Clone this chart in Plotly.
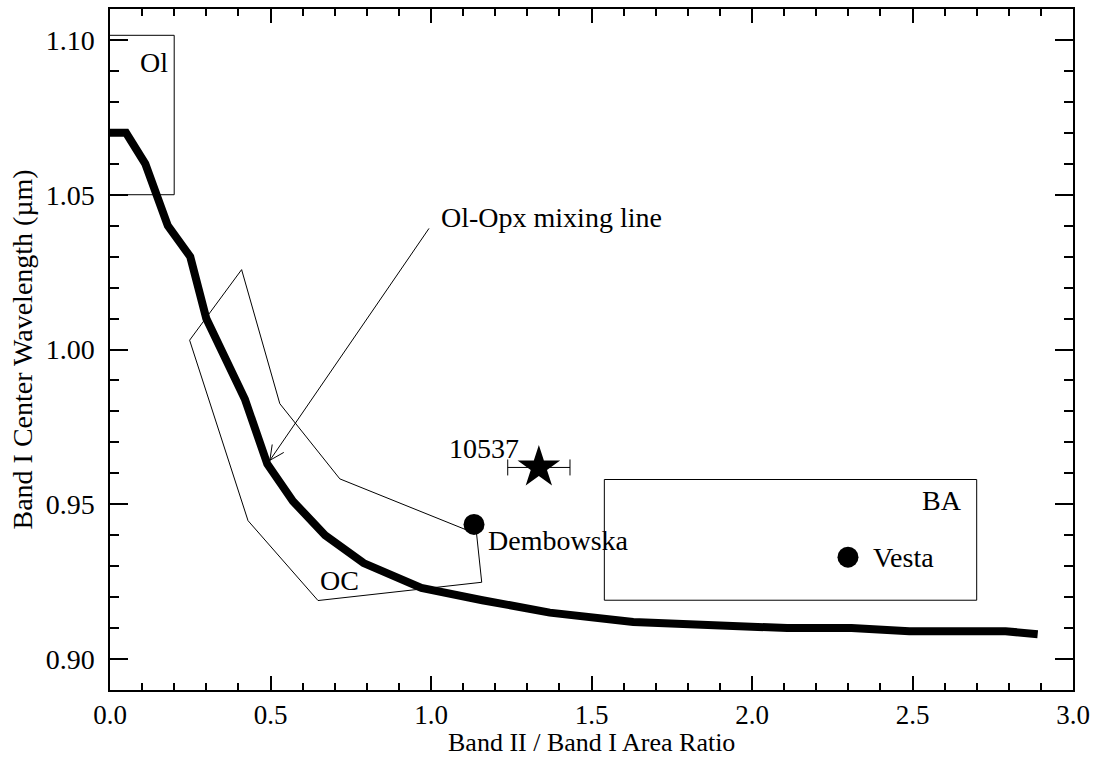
import math
import plotly.graph_objects as go

# Ol-Opx mixing line
mix_x = [0.00, 0.05, 0.11, 0.18, 0.25, 0.30, 0.42, 0.49, 0.57, 0.67, 0.79, 0.97,
         1.16, 1.37, 1.63, 2.11, 2.31, 2.49, 2.79, 2.89]
mix_y = [1.070, 1.070, 1.060, 1.040, 1.030, 1.010, 0.984, 0.963, 0.951, 0.940, 0.931, 0.923,
         0.919, 0.915, 0.912, 0.910, 0.910, 0.909, 0.909, 0.908]

# OC region polygon
oc_x = [0.41, 0.248, 0.430, 0.648, 1.158, 1.142, 0.716, 0.529, 0.41]
oc_y = [1.0258, 1.003, 0.9447, 0.9189, 0.9248, 0.9404, 0.9582, 0.9825, 1.0258]

# Ol box
ol_x = [0.0, 0.2, 0.2, 0.0]
ol_y = [1.1015, 1.1015, 1.05, 1.05]

# BA box
ba_x = [1.54, 2.70, 2.70, 1.54, 1.54]
ba_y = [0.958, 0.958, 0.919, 0.919, 0.958]

# Objects
ast_names = ["Dembowska", "Vesta"]
ast_x = [1.134, 2.299]
ast_y = [0.9435, 0.9329]

star_name = "10537"
star_x = [1.336]
star_y = [0.9619]
star_xerr = [0.097]

# mixing-line arrow: head and tail
arrow_head = (0.498, 0.9642)
arrow_tail = (0.997, 1.0396)

FONT = "Liberation Serif"
FS = 28

W, H = 1097, 757
ML, MR, MT, MB = 110, 24, 9, 67
XR = [0, 3.0]
YR = [0.89, 1.11]
PW, PH = W - ML - MR, H - MT - MB
SX = PW / (XR[1] - XR[0])
SY = PH / (YR[1] - YR[0])

fig = go.Figure()
fig.add_trace(go.Scatter(x=ol_x, y=ol_y, mode="lines", line=dict(color="black", width=1)))
fig.add_trace(go.Scatter(x=ba_x, y=ba_y, mode="lines", line=dict(color="black", width=1)))
fig.add_trace(go.Scatter(x=oc_x, y=oc_y, mode="lines", line=dict(color="black", width=1)))
fig.add_trace(go.Scatter(x=mix_x, y=mix_y, mode="lines", line=dict(color="black", width=8)))
fig.add_trace(go.Scatter(x=ast_x, y=ast_y, mode="markers",
                         marker=dict(symbol="circle", size=21, color="black")))
fig.add_trace(go.Scatter(x=star_x, y=star_y, mode="markers",
                         marker=dict(symbol="star", size=32, color="black"),
                         error_x=dict(type="data", array=star_xerr, symmetric=True,
                                      color="black", thickness=1, width=8)))

ann = []
def txt(x, y, s, xanchor="left"):
    ann.append(dict(x=x, y=y, xref="x", yref="y", text=s, showarrow=False,
                    xanchor=xanchor, yanchor="middle",
                    font=dict(family=FONT, size=FS, color="black")))

txt(0.088, 1.0928, "Ol")
txt(0.648, 0.9254, "OC")
txt(2.660, 0.9512, "BA", "right")
txt(1.170, 0.9383, ast_names[0])
txt(2.370, 0.9329, ast_names[1])
txt(1.280, 0.9680, star_name, "right")
txt(1.025, 1.0428, "Ol-Opx mixing line")

# arrow shaft
ann.append(dict(x=arrow_head[0], y=arrow_head[1], ax=arrow_tail[0], ay=arrow_tail[1],
                xref="x", yref="y", axref="x", ayref="y", text="", showarrow=True,
                arrowhead=0, arrowwidth=1, arrowcolor="black", standoff=0))

# open arrowhead: two short strokes from the tip, built in pixel space
shapes = []
dxp = (arrow_tail[0] - arrow_head[0]) * SX
dyp = (arrow_tail[1] - arrow_head[1]) * SY
L = math.hypot(dxp, dyp)
ux, uy = dxp / L, dyp / L
for ang in (math.radians(26), math.radians(-26)):
    rx = ux * math.cos(ang) - uy * math.sin(ang)
    ry = ux * math.sin(ang) + uy * math.cos(ang)
    shapes.append(dict(type="line", xref="x", yref="y",
                       x0=arrow_head[0], y0=arrow_head[1],
                       x1=arrow_head[0] + 16 * rx / SX, y1=arrow_head[1] + 16 * ry / SY,
                       line=dict(color="black", width=1)))

# axis titles
ann.append(dict(x=0.5, y=(-(742 - (H - MB)) / PH), xref="paper", yref="paper",
                text="Band II / Band I Area Ratio", showarrow=False,
                xanchor="center", yanchor="middle",
                font=dict(family=FONT, size=26, color="black")))
ann.append(dict(x=-(ML - 22) / PW, y=0.5, xref="paper", yref="paper",
                text="Band I Center Wavelength (µm)", showarrow=False, textangle=-90,
                xanchor="center", yanchor="middle",
                font=dict(family=FONT, size=FS, color="black")))

axis_common = dict(showline=True, linecolor="black", linewidth=1.5, mirror="allticks",
                   ticks="inside", tickcolor="black", tickwidth=1.5, showgrid=False,
                   zeroline=False, automargin=False)

fig.update_layout(
    width=W, height=H,
    margin=dict(l=ML, r=MR, t=MT, b=MB),
    paper_bgcolor="white", plot_bgcolor="white",
    showlegend=False,
    annotations=ann,
    shapes=shapes,
    xaxis=dict(range=XR, dtick=0.5, tick0=0, tickformat=".1f", ticklen=14,
               minor=dict(dtick=0.1, ticklen=7, ticks="inside", tickcolor="black", tickwidth=1.5),
               ticklabelstandoff=0,
               tickfont=dict(family=FONT, size=27, color="black"),
               **axis_common),
    yaxis=dict(range=YR, dtick=0.05, tick0=0.9, tickformat=".2f", ticklen=18,
               minor=dict(dtick=0.01, ticklen=9, ticks="inside", tickcolor="black", tickwidth=1.5),
               ticklabelstandoff=8,
               tickfont=dict(family=FONT, size=FS, color="black"),
               **axis_common),
)

fig.write_html("out.html")
